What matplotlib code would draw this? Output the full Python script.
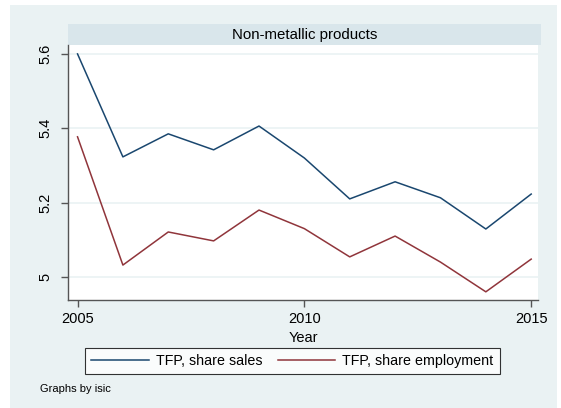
import matplotlib
matplotlib.use("Agg")
import matplotlib.pyplot as plt
from matplotlib.patches import Rectangle
from matplotlib.lines import Line2D

years = [2005, 2006, 2007, 2008, 2009, 2010, 2011, 2012, 2013, 2014, 2015]
tfp_sales = [5.600, 5.323, 5.385, 5.342, 5.406, 5.320, 5.210, 5.256, 5.213, 5.129, 5.223]
tfp_empl = [5.377, 5.032, 5.121, 5.097, 5.180, 5.130, 5.054, 5.110, 5.040, 4.960, 5.048]
yticks = [5.0, 5.2, 5.4, 5.6]
ytick_labels = ["5", "5.2", "5.4", "5.6"]
xticks = [2005, 2010, 2015]
title = "Non-metallic products"
labels = ["TFP, share sales", "TFP, share employment"]

plt.rcParams['font.family'] = ['Liberation Sans', 'DejaVu Sans']
W, H = 561, 408
fig = plt.figure(figsize=(W/100, H/100), dpi=100)
fig.patch.set_facecolor('white')

bg = '#EAF2F3'
navy = '#1a476f'
maroon = '#90353b'

def fx(px): return px / W
def fy(py): return 1 - py / H

fig.patches.append(Rectangle((fx(10), fy(408)), fx(557) - fx(10), fy(5) - fy(408),
                             transform=fig.transFigure, facecolor=bg, edgecolor='none', zorder=-2))

# title strip
fig.patches.append(Rectangle((fx(68), fy(45)), fx(541) - fx(68), fy(24) - fy(45),
                             transform=fig.transFigure, facecolor='#D9E6EB', edgecolor='none', zorder=-1))
fig.text((fx(68) + fx(541)) / 2, (fy(24) + fy(45)) / 2 - 0.002, title, ha='center', va='center',
         fontsize=10.8, color='black')

ax = fig.add_axes([fx(68), fy(300), fx(538) - fx(68), fy(45) - fy(300)])
ax.set_zorder(3)
ax.set_facecolor('white')
ax.plot(years, tfp_sales, color=navy, lw=1.1, label=labels[0])
ax.plot(years, tfp_empl, color=maroon, lw=1.1, label=labels[1])
ax.set_xlim(2004.79, 2015.15)
ax.set_ylim(4.938, 5.624)
ax.set_yticks(yticks)
ax.set_yticklabels(ytick_labels, rotation=90, va='center')
ax.set_xticks(xticks)
ax.grid(axis='y', color=bg, lw=1.2)
ax.set_axisbelow(True)
for s in ['top', 'right']:
    ax.spines[s].set_visible(False)
for s in ['left', 'bottom']:
    ax.spines[s].set_color('#555555')
    ax.spines[s].set_linewidth(1.0)
ax.tick_params(axis='both', colors='#555555', labelcolor='black', labelsize=10.5, length=5, width=1)
ax.tick_params(axis='y', pad=6)
ax.set_xlabel("Year", fontsize=10.5, labelpad=4)

handles = [Line2D([], [], color=navy, lw=1.1), Line2D([], [], color=maroon, lw=1.1)]
leg = fig.legend(handles, labels, loc='center', bbox_to_anchor=((fx(85) + fx(500)) / 2, (fy(347) + fy(375)) / 2),
                 ncol=2, frameon=True, fancybox=False, fontsize=10.3, handlelength=4.0,
                 columnspacing=1.1, borderpad=0.45, handletextpad=0.5)
leg.get_frame().set_edgecolor('black')
leg.get_frame().set_linewidth(0.8)
leg.get_frame().set_facecolor('white')

fig.text(fx(40), fy(389), "Graphs by isic", ha='left', va='center', fontsize=8)

fig.savefig("out.png", dpi=100, facecolor=fig.get_facecolor())
